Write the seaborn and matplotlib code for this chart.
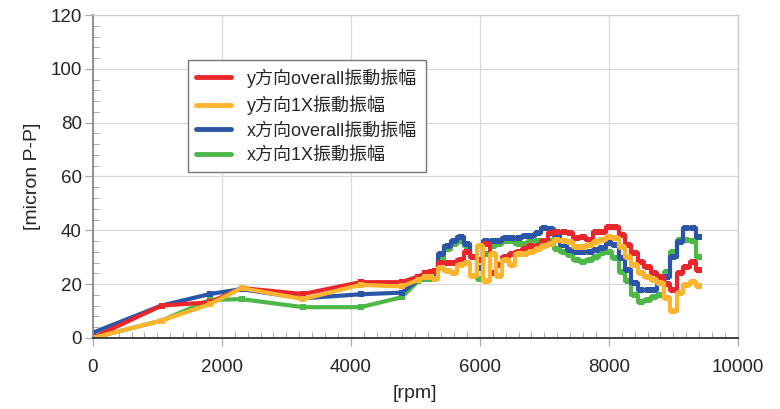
import numpy as np
import pandas as pd
import matplotlib
matplotlib.use('Agg')
import matplotlib.pyplot as plt
from matplotlib.lines import Line2D
from matplotlib.ticker import MultipleLocator
import seaborn as sns

# run-up part (sparse points)
rpm_low = [0, 1065, 1815, 2305, 3260, 4150, 4790, 5040, 5150, 5250]
y_all_low = [0, 12, 13.2, 18.5, 16.3, 20.7, 20.7, 22.8, 24, 24.5]
y_1x_low = [0, 6.4, 12.5, 18.5, 14.4, 19.7, 19.1, 21.5, 22.5, 22.5]
x_all_low = [1.9, 12, 16.3, 18.1, 14.7, 16.2, 16.8, 21.5, 22.5, 23]
x_1x_low = [0, 6.4, 14.1, 14.4, 11.4, 11.4, 15.1, 21, 22, 22]

# dense part, every 100 rpm
rpm_high = list(range(5300, 9401, 100))
y_all_high = [25, 28, 28, 28, 29, 32, 30, 29, 35, 24, 27, 30, 31, 32, 33, 34, 34, 36,
              39, 39.5, 39.5, 38.9, 37, 37.6, 36.4, 39.5, 39.5, 41.3, 41.3, 38.3, 34.5,
              31.5, 28.3, 26.5, 24, 22.8, 20, 17.8, 24, 26.5, 28.3, 25.3]
y_1x_high = [22, 26, 25, 24, 27, 28, 23, 34, 21, 31, 23, 29, 27, 31, 31, 32, 33, 34,
             35, 36.4, 36, 35.8, 33.9, 33.9, 34.5, 35.8, 36.4, 37.6, 37, 33.9, 30.2,
             27.1, 24, 22.8, 21.5, 20.3, 14.7, 9.8, 16.6, 19.7, 20.9, 19.1]
x_all_high = [24, 31, 34, 36, 37.5, 35, 30, 26, 36, 36, 36, 37, 37, 37, 38, 38, 39, 41,
              40.5, 38, 34.5, 32.7, 32, 32, 32, 32.7, 33.3, 35.2, 34.5, 29.6, 25.3,
              20.3, 17.8, 17.8, 17.8, 20.3, 22.8, 30.2, 35.8, 40.7, 40.7, 37.6]
x_1x_high = [22, 29, 33, 35, 36, 34, 30, 22, 31, 34, 35, 36, 36, 35, 35, 36, 36, 35,
             36, 33, 32, 30.8, 29, 28.3, 29, 30.2, 31.5, 32, 29.6, 24.6, 21, 16, 13.5,
             14, 15.3, 16, 24.6, 32, 36.4, 36.4, 36, 30]

labels = ['y方向overall振動振幅', 'y方向1X振動振幅', 'x方向overall振動振幅', 'x方向1X振動振幅']
colors = ['#E8262B', '#FDB52F', '#2B56A8', '#4DB848']

sns.set_style('white')
plt.rcParams['font.family'] = ['Liberation Sans', 'Noto Sans CJK TC', 'DejaVu Sans']

fig = plt.figure(figsize=(7.8, 4.09), dpi=100)
ax = fig.add_axes([0.119, 0.174, 0.827, 0.789])

series = {
    labels[0]: (y_all_low, y_all_high),
    labels[1]: (y_1x_low, y_1x_high),
    labels[2]: (x_all_low, x_all_high),
    labels[3]: (x_1x_low, x_1x_high),
}
# draw order: green, blue, red, orange on top
for i in [3, 2, 0, 1]:
    lo, hi = series[labels[i]]
    df_lo = pd.DataFrame({'rpm': rpm_low + [rpm_high[0]], 'amp': lo + [hi[0]]})
    df_hi = pd.DataFrame({'rpm': rpm_high, 'amp': hi})
    sns.lineplot(data=df_lo, x='rpm', y='amp', color=colors[i], lw=3, marker='s',
                 markersize=4.5, markeredgewidth=0, ax=ax, sort=False)
    sns.lineplot(data=df_hi, x='rpm', y='amp', color=colors[i], lw=3, marker='s',
                 markersize=4.5, markeredgewidth=0, ax=ax, sort=False,
                 drawstyle='steps-mid')

ax.set_xlim(0, 10000)
ax.set_ylim(0, 120)
ax.xaxis.set_major_locator(MultipleLocator(2000))
ax.xaxis.set_minor_locator(MultipleLocator(200))
ax.yaxis.set_major_locator(MultipleLocator(20))
ax.yaxis.set_minor_locator(MultipleLocator(4))
ax.grid(True, which='major', color='#d9d9d9', lw=0.9)
ax.set_axisbelow(True)
ax.tick_params(which='major', direction='out', length=6, width=0.9, color='#aaaaaa',
               labelsize=13.5)
ax.tick_params(axis='x', which='major', pad=9)
ax.tick_params(axis='y', which='major', pad=2)
ax.tick_params(which='minor', direction='in', length=4, width=0.7, color='#aaaaaa')
ax.tick_params(axis='x', which='both', bottom=True)
ax.tick_params(axis='y', which='both', left=True)
for s in ['top', 'right']:
    ax.spines[s].set_color('#c8c8c8')
    ax.spines[s].set_linewidth(0.9)
ax.spines['left'].set_color('#8a8a8a')
ax.spines['left'].set_linewidth(1.3)
ax.spines['bottom'].set_color('#333333')
ax.spines['bottom'].set_linewidth(1.3)

ax.set_xlabel('[rpm]', fontsize=14, labelpad=7)
ax.set_ylabel('[micron P-P]', fontsize=14, labelpad=7)

handles = [Line2D([0], [0], color=c, lw=3.5) for c in colors]
leg = ax.legend(handles, labels, loc='upper left', bbox_to_anchor=(0.147, 0.861),
                fontsize=13, frameon=True, fancybox=False, edgecolor='#777777',
                handlelength=1.95, handletextpad=0.9, labelspacing=0.42,
                borderpad=0.45, borderaxespad=0, framealpha=1)
leg.get_frame().set_linewidth(1.0)

plt.savefig('out.png', dpi=100)
